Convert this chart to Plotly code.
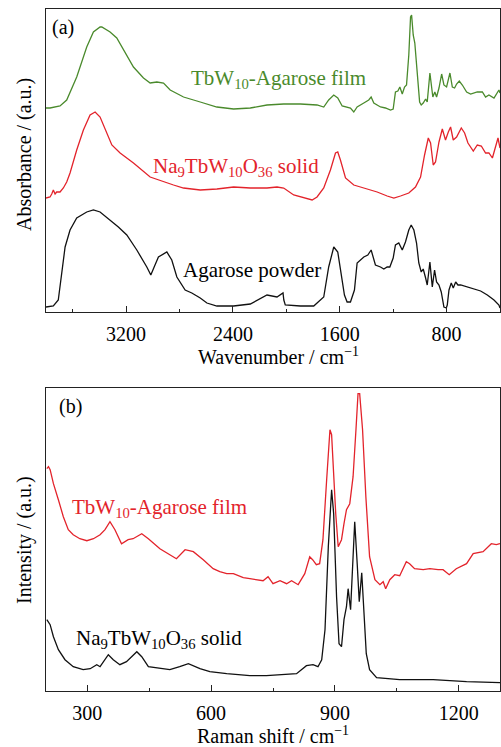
import plotly.graph_objects as go

# ---------------- Panel (a): FTIR ----------------
ftir_film_wn = [3800, 3770, 3695, 3645, 3570, 3495, 3445, 3395, 3382, 3320, 3270, 3220, 3145, 3070, 3020, 2970,
                2920, 2870, 2770, 2645, 2520, 2395, 2270, 2145, 2020, 1895, 1770, 1720, 1683, 1645, 1615, 1582,
                1520, 1495, 1470, 1420, 1383, 1365, 1345, 1295, 1258, 1220, 1200, 1183, 1165, 1150, 1132, 1115,
                1100, 1083, 1070, 1062, 1050, 1038, 1025, 1015, 1002, 990, 975, 957, 945, 925, 912, 903, 888,
                875, 857, 837, 820, 800, 775, 757, 740, 725, 705, 682, 650, 620, 570, 532, 508, 483, 445, 420,
                408, 400]
ftir_film_abs = [204, 204, 206, 212, 235, 265, 280, 285, 285, 280, 274, 262, 245, 234, 229, 230,
                 229, 222, 215, 210, 205, 203, 204, 207, 208, 208, 207, 205, 212, 217, 214, 206,
                 204, 200, 205, 209, 212, 215, 209, 205, 204, 202, 203, 220, 221, 225, 218, 225,
                 227, 257, 295, 297, 277, 269, 250, 230, 210, 207, 209, 213, 210, 239, 222, 215, 220,
                 215, 224, 238, 227, 225, 239, 225, 224, 228, 231, 227, 220, 218, 220, 220, 215, 217, 214, 220,
                 222, 219]

ftir_solid_wn = [3800, 3770, 3757, 3745, 3732, 3720, 3695, 3670, 3645, 3620, 3570, 3520, 3470, 3432, 3395, 3345,
                 3307, 3245, 3145, 3020, 2920, 2845, 2770, 2645, 2520, 2395, 2270, 2145, 2070, 2020, 1945, 1870,
                 1807, 1770, 1720, 1670, 1632, 1615, 1595, 1557, 1495, 1420, 1320, 1245, 1195, 1145, 1083, 1033,
                 995, 965, 937, 920, 900, 883, 857, 832, 808, 787, 770, 750, 725, 690, 665, 640, 600, 570, 540,
                 508, 483, 457, 433, 415, 400]
ftir_solid_abs = [114, 115, 118, 122, 118, 120, 120, 124, 130, 139, 162, 182, 197, 200, 195, 179,
                  167, 159, 149, 135, 130, 127, 124, 122, 123, 125, 124, 124, 125, 124, 117, 114,
                  112, 115, 124, 142, 159, 160, 152, 134, 127, 124, 120, 116, 114, 116, 119, 125,
                  135, 157, 174, 169, 147, 150, 170, 183, 172, 180, 185, 172, 175, 184, 179, 169, 161, 167, 166,
                  159, 159, 154, 165, 174, 164]

ftir_agarose_wn = [3800, 3745, 3708, 3682, 3657, 3620, 3570, 3495, 3445, 3395, 3320, 3258, 3195, 3120, 3045, 3015,
                   2990, 2958, 2895, 2858, 2820, 2758, 2708, 2645, 2595, 2520, 2395, 2270, 2145, 2070, 2025, 2019,
                   2008, 1895, 1795, 1720, 1683, 1645, 1615, 1582, 1565, 1545, 1520, 1490, 1470, 1420, 1390, 1365,
                   1333, 1295, 1270, 1245, 1225, 1200, 1183, 1158, 1132, 1108, 1083, 1065, 1045, 1025, 1008, 990,
                   975, 957, 945, 925, 907, 890, 875, 857, 840, 820, 802, 795, 782, 765, 750, 732, 715, 695, 645,
                   595, 545, 495, 445, 408, 400]
ftir_agarose_abs = [5, 6, 12, 39, 65, 82, 94, 100, 102, 100, 92, 85, 77, 62, 45, 37,
                    45, 55, 60, 52, 35, 22, 19, 14, 9, 6, 6, 8, 17, 15, 19, 12,
                    7, 6, 6, 15, 45, 65, 60, 32, 17, 10, 10, 22, 49, 55, 57, 62,
                    47, 45, 43, 45, 45, 54, 67, 69, 62, 70, 82, 87, 82, 69, 49, 40,
                    43, 34, 27, 50, 25, 42, 30, 27, 20, 5, 4, 7, 22, 29, 24, 30, 27, 27, 25,
                    23, 21, 17, 12, 7, 4]

# ---------------- Panel (b): Raman ----------------
raman_film_shift = [202, 206, 210, 218, 230, 242, 254, 266, 282, 299, 315, 331, 343, 355, 367, 383, 399, 411,
                    432, 448, 476, 500, 516, 537, 557, 581, 605, 621, 638, 654, 678, 694, 710, 726, 738, 750,
                    767, 783, 795, 811, 827, 839, 846, 855, 863, 871, 880, 888, 892, 896, 902, 908, 916, 922,
                    928, 936, 944, 951, 956, 960, 967, 975, 984, 997, 1009, 1017, 1023, 1033, 1045, 1057, 1073,
                    1081, 1093, 1114, 1130, 1150, 1162, 1177, 1194, 1219, 1235, 1259, 1279, 1291, 1300]
raman_film_int = [222, 224, 221, 207, 191, 174, 161, 156, 152, 150, 152, 156, 161, 169, 161, 147, 151, 152,
                  157, 152, 142, 136, 132, 141, 139, 131, 122, 119, 117, 117, 113, 112, 111, 110, 114, 107,
                  110, 107, 110, 106, 117, 134, 131, 126, 127, 151, 211, 261, 256, 224, 177, 144, 151, 167,
                  181, 187, 214, 261, 297, 297, 261, 194, 134, 111, 106, 109, 102, 111, 116, 115, 129,
                  127, 122, 121, 122, 121, 121, 116, 122, 127, 137, 139, 147, 146, 147]

raman_solid_shift = [202, 206, 210, 218, 230, 246, 266, 290, 307, 323, 331, 351, 363, 379, 395, 420, 432, 448,
                     476, 500, 524, 545, 573, 597, 638, 694, 734, 775, 807, 831, 847, 859, 868, 876, 884, 892,
                     897, 904, 910, 916, 922, 928, 932, 938, 944, 948, 954, 959, 965, 970, 976, 984, 1001, 1057,
                     1138, 1219, 1300]
raman_solid_int = [71, 69, 66, 54, 41, 31, 24, 21, 22, 26, 24, 36, 31, 26, 29, 39, 34, 24,
                   22, 21, 24, 27, 22, 19, 17, 15, 15, 16, 17, 25, 26, 24, 31, 61, 144, 201,
                   177, 94, 47, 44, 71, 84, 102, 81, 137, 169, 127, 89, 118, 77, 37, 21, 13, 11,
                   11, 9, 8]

ftir_ticks = [3200, 2400, 1600, 800]
raman_ticks = [300, 600, 900, 1200]

GREEN = "#4a8a2c"
RED = "#e3232b"
BLACK = "#111111"
FONT = "Liberation Serif"

fig = go.Figure()
fig.add_trace(go.Scatter(x=ftir_film_wn, y=ftir_film_abs, mode="lines",
                         line=dict(color=GREEN, width=1.3), xaxis="x", yaxis="y"))
fig.add_trace(go.Scatter(x=ftir_solid_wn, y=ftir_solid_abs, mode="lines",
                         line=dict(color=RED, width=1.3), xaxis="x", yaxis="y"))
fig.add_trace(go.Scatter(x=ftir_agarose_wn, y=ftir_agarose_abs, mode="lines",
                         line=dict(color=BLACK, width=1.3), xaxis="x", yaxis="y"))
fig.add_trace(go.Scatter(x=raman_film_shift, y=raman_film_int, mode="lines",
                         line=dict(color=RED, width=1.3), xaxis="x2", yaxis="y2"))
fig.add_trace(go.Scatter(x=raman_solid_shift, y=raman_solid_int, mode="lines",
                         line=dict(color=BLACK, width=1.3), xaxis="x2", yaxis="y2"))

W, H = 501, 747
def px(x):
    return x / W
def py(y):
    return 1 - y / H

axis_common = dict(showline=True, linecolor="#222222", linewidth=1.3, mirror=True,
                   showgrid=False, zeroline=False,
                   tickfont=dict(family=FONT, size=20, color="black"))

fig.update_layout(
    width=W, height=H,
    margin=dict(l=0, r=0, t=0, b=0),
    paper_bgcolor="white", plot_bgcolor="white",
    showlegend=False,
    xaxis=dict(domain=[px(46), px(500)], range=[3800, 400], tickmode="array", tickvals=ftir_ticks,
               ticks="inside", ticklen=6, tickwidth=1.2, tickcolor="#222222",
               minor=dict(tickmode="array", tickvals=[3600, 2800, 2000, 1200], ticks="inside",
                          ticklen=3, tickwidth=1.2, tickcolor="#222222"),
               anchor="y", ticklabelstandoff=4, **axis_common),
    yaxis=dict(domain=[py(312.3), py(9.3)], range=[-0.3, 302.7], showticklabels=False, ticks="",
               anchor="x", **axis_common),
    xaxis2=dict(domain=[px(46), px(500)], range=[200, 1300], tickmode="array", tickvals=raman_ticks,
                ticks="inside", ticklen=6, tickwidth=1.2, tickcolor="#222222",
                minor=dict(tickmode="array", tickvals=[450, 750, 1050], ticks="inside",
                           ticklen=3, tickwidth=1.2, tickcolor="#222222"),
                anchor="y2", ticklabelstandoff=4, **axis_common),
    yaxis2=dict(domain=[py(690.7), py(387.7)], range=[0, 303], showticklabels=False, ticks="",
                anchor="x2", **axis_common),
)

def label(text, x, y, color="black", size=20, angle=0):
    fig.add_annotation(text=text, x=px(x), y=py(y), xref="paper", yref="paper",
                       showarrow=False, textangle=angle, xanchor="center", yanchor="middle",
                       font=dict(family=FONT, size=size, color=color))

label("(a)", 63, 27)
label("(b)", 70, 406)
label("TbW<sub>10</sub>-Agarose film", 278, 79, color=GREEN, size=21)
label("Na<sub>9</sub>TbW<sub>10</sub>O<sub>36</sub> solid", 236, 167, color=RED, size=21)
label("Agarose powder", 252, 270, size=21)
label("TbW<sub>10</sub>-Agarose film", 159, 508, color=RED, size=21)
label("Na<sub>9</sub>TbW<sub>10</sub>O<sub>36</sub> solid", 159, 639, size=21)
label("Wavenumber / cm<sup>−1</sup>", 278, 356)
label("Raman shift / cm<sup>−1</sup>", 273, 735)
label("Absorbance / (a.u.)", 24, 155, angle=-90)
label("Intensity / (a.u.)", 24, 540, angle=-90)

fig.write_html("out.html")
